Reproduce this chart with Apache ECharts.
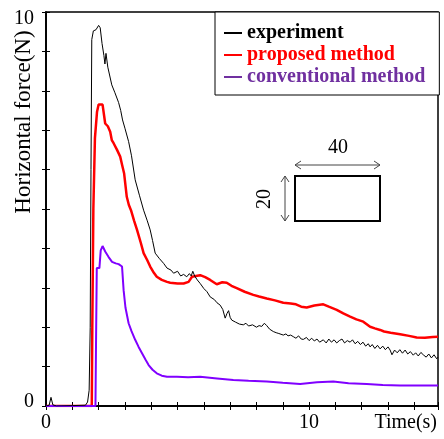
<!DOCTYPE html>
<html><head><meta charset="utf-8">
<script src="https://cdn.jsdelivr.net/npm/echarts@6/dist/echarts.min.js"></script>
<style>html,body{margin:0;padding:0;background:#fff}#c{width:444px;height:439px}</style>
</head><body><div id="c"></div>
<script>
// Time (s), Horizontal force (N)
const experiment = [
[0,0],[0.12,0.02],[0.19,0.22],[0.26,0.03],[0.4,0],[1.0,0.01],[1.5,0.02],[1.58,0.1],[1.64,0.4],[1.68,2.0],[1.71,6.0],[1.74,9.3],
[1.8,9.52],[1.9,9.55],[1.96,9.6],[2.0,9.66],[2.06,9.6],[2.13,9.2],[2.2,8.9],[2.24,8.68],[2.28,8.95],[2.35,8.6],[2.5,8.15],
[2.62,7.95],[2.76,7.7],[2.84,7.5],[2.91,7.26],[3.0,7.05],[3.14,6.71],[3.25,6.35],[3.39,5.74],[3.55,5.35],[3.71,4.97],[3.85,4.7],
[3.96,4.47],[4.05,4.2],[4.15,3.88],[4.3,3.75],[4.47,3.62],[4.6,3.5],[4.75,3.45],[4.85,3.37],[5.0,3.42],[5.12,3.3],[5.23,3.34],
[5.35,3.28],[5.45,3.36],[5.52,3.3],[5.58,3.42],[5.65,3.3],[5.75,3.2],[5.86,3.11],[6.0,2.98],[6.12,2.9],[6.24,2.77],[6.4,2.7],
[6.5,2.62],[6.62,2.56],[6.72,2.45],[6.81,2.23],[6.88,2.35],[6.94,2.42],[7.0,2.25],[7.06,2.18],[7.2,2.13],[7.35,2.08],[7.5,2.06],
[7.6,2.1],[7.7,2.03],[7.85,2.06],[8.0,2.0],[8.1,2.04],[8.2,2.02],[8.3,2.1],[8.39,2.04],[8.5,1.95],[8.56,2.0],[8.64,1.89],
[8.75,1.86],[8.85,1.84],[9.02,1.8],[9.12,1.83],[9.2,1.78],[9.3,1.8],[9.4,1.76],[9.5,1.72],[9.6,1.78],[9.7,1.7],[9.78,1.69],
[9.9,1.74],[10.0,1.66],[10.1,1.72],[10.2,1.65],[10.3,1.7],[10.4,1.62],[10.54,1.68],[10.65,1.6],[10.75,1.7],[10.85,1.62],
[10.95,1.68],[11.05,1.6],[11.15,1.66],[11.25,1.7],[11.35,1.6],[11.45,1.66],[11.56,1.62],[11.65,1.68],[11.75,1.58],[11.85,1.64],
[11.95,1.56],[12.05,1.62],[12.15,1.52],[12.25,1.58],[12.32,1.5],[12.4,1.56],[12.5,1.46],[12.6,1.54],[12.7,1.45],[12.8,1.52],
[12.9,1.43],[13.0,1.5],[13.08,1.42],[13.15,1.3],[13.25,1.42],[13.35,1.35],[13.45,1.43],[13.55,1.34],[13.65,1.42],[13.75,1.32],
[13.85,1.38],[13.96,1.29],[14.05,1.35],[14.15,1.27],[14.25,1.36],[14.34,1.3],[14.45,1.24],[14.55,1.32],[14.65,1.22],[14.75,1.3],
[14.85,1.2],[14.9,1.24]
];
const proposed = [
[0,0],[1.74,0],[1.76,2.0],[1.8,5.0],[1.86,6.8],[1.94,7.47],[2.0,7.65],[2.06,7.69],[2.15,7.65],[2.22,7.6],[2.25,7.17],[2.35,7.1],
[2.44,6.96],[2.5,6.75],[2.57,6.67],[2.7,6.5],[2.82,6.33],[2.9,6.1],[2.97,5.9],[3.07,5.31],[3.15,5.1],[3.23,4.97],[3.35,4.7],
[3.46,4.47],[3.6,4.15],[3.71,3.88],[3.85,3.7],[3.96,3.54],[4.1,3.38],[4.21,3.28],[4.4,3.2],[4.6,3.15],[4.72,3.13],[5.0,3.11],
[5.23,3.11],[5.42,3.15],[5.55,3.28],[5.7,3.3],[5.86,3.32],[6.05,3.27],[6.24,3.2],[6.49,3.09],[6.7,3.14],[6.87,3.13],[7.05,3.05],
[7.25,2.99],[7.55,2.9],[7.88,2.82],[8.1,2.78],[8.39,2.73],[8.7,2.68],[9.02,2.62],[9.3,2.6],[9.5,2.58],[9.7,2.52],[9.91,2.5],
[10.2,2.55],[10.54,2.58],[10.75,2.52],[11.05,2.44],[11.3,2.35],[11.56,2.27],[11.8,2.2],[12.06,2.14],[12.32,2.01],[12.5,1.97],
[12.7,1.93],[12.85,1.89],[13.1,1.86],[13.46,1.82],[13.8,1.78],[14.09,1.74],[14.4,1.73],[14.7,1.75],[14.9,1.76]
];
const conventional = [
[0,0],[1.88,0],[1.9,1.5],[1.93,3.5],[1.98,3.45],[2.03,3.5],[2.08,3.95],[2.15,4.06],[2.25,3.92],[2.38,3.78],[2.51,3.66],
[2.65,3.62],[2.76,3.6],[2.89,3.54],[2.95,2.94],[3.02,2.5],[3.14,2.1],[3.25,1.9],[3.39,1.68],[3.52,1.5],[3.65,1.34],[3.78,1.18],
[3.9,1.04],[4.05,0.92],[4.21,0.83],[4.4,0.77],[4.6,0.74],[4.98,0.74],[5.4,0.73],[5.86,0.74],[6.5,0.7],[7.12,0.66],[7.7,0.64],
[8.39,0.62],[9.0,0.59],[9.66,0.56],[10.3,0.6],[10.92,0.62],[11.5,0.58],[12.19,0.56],[12.8,0.53],[13.46,0.52],[14.2,0.52],[14.9,0.52]
];
const seriesNames = ['experiment', 'proposed method', 'conventional method'];
const xLabels = [0, 10];
const yLabels = [0, 10];

const serif = '"Liberation Serif","Times New Roman",serif';
const chart = echarts.init(document.getElementById('c'));
const axisCommon = {
  min: 0, interval: 1,
  axisLine: {lineStyle: {color: '#000', width: 1.5}},
  axisTick: {inside: true, length: 4, lineStyle: {color: '#000', width: 1}},
  splitLine: {show: false}
};
chart.setOption({
  animation: false,
  grid: {left: 46, right: 6, top: 12, bottom: 33, show: true, borderColor: '#000', borderWidth: 1.5},
  legend: {
    data: [
      {name: seriesNames[0], textStyle: {color: '#000'}, itemStyle: {color: '#000'}},
      {name: seriesNames[1], textStyle: {color: '#ff0000'}, itemStyle: {color: '#ff0000'}},
      {name: seriesNames[2], textStyle: {color: '#7030a0'}, itemStyle: {color: '#7030a0'}}
    ],
    orient: 'vertical', left: 215, top: 12,
    icon: 'rect', itemWidth: 18, itemHeight: 2, itemGap: 2,
    padding: [11, 14, 8, 9],
    backgroundColor: '#fff', borderColor: '#000', borderWidth: 1,
    textStyle: {fontFamily: serif, fontWeight: 'bold', fontSize: 20},
    z: 10
  },
  xAxis: [
    Object.assign({}, axisCommon, {type: 'value', max: 14.9, position: 'bottom',
      axisLabel: {fontFamily: serif, fontSize: 20, color: '#000', margin: 7,
        formatter: v => xLabels.includes(v) ? String(v) : ''}}),
    Object.assign({}, axisCommon, {type: 'value', max: 14.9, position: 'top', axisLabel: {show: false}})
  ],
  yAxis: [
    Object.assign({}, axisCommon, {type: 'value', max: 10, position: 'left',
      axisLabel: {fontFamily: serif, fontSize: 20, color: '#000', margin: 12,
        formatter: v => yLabels.includes(v) ? (v === 0 ? '{b|0}' : '{a|' + v + '}') : '',
        rich: {a: {fontFamily: serif, fontSize: 20, padding: [13, 0, 0, 0]}, b: {fontFamily: serif, fontSize: 20, padding: [0, 0, 8, 0]}}}}),
    Object.assign({}, axisCommon, {type: 'value', max: 10, position: 'right', axisLabel: {show: false}})
  ],
  series: [
    {name: seriesNames[0], type: 'line', data: experiment, showSymbol: false, lineStyle: {color: '#000', width: 1}, itemStyle: {color: '#000'}, z: 3},
    {name: seriesNames[1], type: 'line', data: proposed, showSymbol: false, lineStyle: {color: '#ff0000', width: 2.5}, itemStyle: {color: '#ff0000'}, z: 2},
    {name: seriesNames[2], type: 'line', data: conventional, showSymbol: false, lineStyle: {color: '#8000ff', width: 2}, itemStyle: {color: '#8000ff'}, z: 2}
  ],
  graphic: [
    {type: 'text', x: 24, y: 122, rotation: Math.PI / 2,
      style: {text: 'Horizontal force(N)', font: '23px ' + serif, fill: '#000', textAlign: 'center', textVerticalAlign: 'middle'}},
    {type: 'text', x: 437, y: 423,
      style: {text: 'Time(s)', font: '20px ' + serif, fill: '#000', textAlign: 'right', textVerticalAlign: 'middle'}},
    {type: 'rect', shape: {x: 295, y: 176, width: 85, height: 45}, style: {fill: 'none', stroke: '#000', lineWidth: 2}},
    {type: 'polyline', shape: {points: [[295, 165], [380, 165]]}, style: {stroke: '#444', lineWidth: 1}},
    {type: 'polyline', shape: {points: [[301, 161], [295, 165], [301, 169]]}, style: {stroke: '#444', lineWidth: 1, fill: 'none'}},
    {type: 'polyline', shape: {points: [[374, 161], [380, 165], [374, 169]]}, style: {stroke: '#444', lineWidth: 1, fill: 'none'}},
    {type: 'polyline', shape: {points: [[285, 176], [285, 221]]}, style: {stroke: '#444', lineWidth: 1}},
    {type: 'polyline', shape: {points: [[281, 182], [285, 176], [289, 182]]}, style: {stroke: '#444', lineWidth: 1, fill: 'none'}},
    {type: 'polyline', shape: {points: [[281, 215], [285, 221], [289, 215]]}, style: {stroke: '#444', lineWidth: 1, fill: 'none'}},
    {type: 'text', x: 338, y: 148,
      style: {text: '40', font: '20px ' + serif, fill: '#000', textAlign: 'center', textVerticalAlign: 'middle'}},
    {type: 'text', x: 265, y: 199, rotation: Math.PI / 2,
      style: {text: '20', font: '20px ' + serif, fill: '#000', textAlign: 'center', textVerticalAlign: 'middle'}}
  ]
});
</script></body></html>
